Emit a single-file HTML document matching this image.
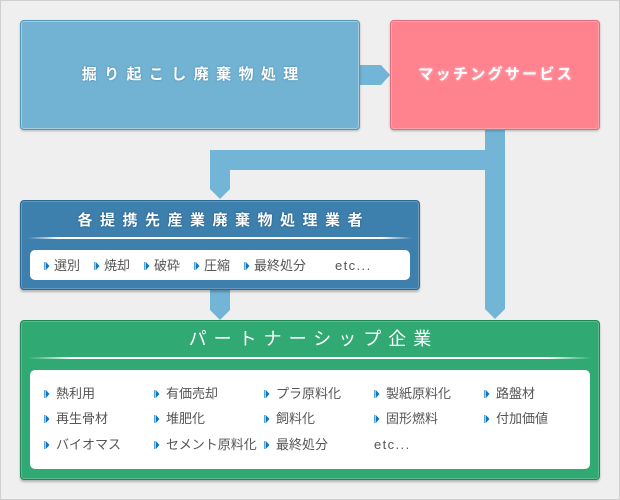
<!DOCTYPE html>
<html><head><meta charset="utf-8">
<style>
*{margin:0;padding:0;box-sizing:border-box}
html,body{width:620px;height:500px;overflow:hidden}
body{background:#efefef;position:relative;font-family:"Liberation Sans","Noto Sans CJK JP",sans-serif}
.frame{position:absolute;left:0;top:0;width:620px;height:500px;border:1px solid #cfcfcf}
.box{position:absolute;border-radius:4px}
.t{position:absolute;left:0;right:0;text-align:center;color:#fff;white-space:nowrap}
.inner{position:absolute;background:#fff;border-radius:5px}
.sep{position:absolute;height:2px;background:linear-gradient(to right,rgba(255,255,255,0),#fff 8%,#fff 92%,rgba(255,255,255,0))}
.it{position:absolute;font-size:13px;color:#555;white-space:nowrap;line-height:16px;height:16px}
.ic{position:absolute;width:6px;height:8px}
svg{position:absolute;left:0;top:0}
</style></head><body>
<div class="frame"></div>

<svg width="620" height="500">
  <polygon points="359,65 381,65 390,75 381,85 359,85" fill="#72b5d6"/>
  <polygon points="485,129 505,129 505,309 495,319 485,309" fill="#72b5d6"/>
  <rect x="210" y="150" width="285" height="20" fill="#72b5d6"/>
  <polygon points="210,150 230,150 230,189 220,199 210,189" fill="#72b5d6"/>
  <polygon points="210,289 230,289 230,310 220,320 210,310" fill="#72b5d6"/>
</svg>

<!-- blue box -->
<div class="box" style="left:20px;top:20px;width:340px;height:110px;background:#72b3d3;border:1px solid #5796b8;box-shadow:inset 0 0 0 1px rgba(255,255,255,.35),0 1px 2px rgba(0,0,0,.25)">
  <div class="t" style="top:44px;line-height:20px;font-size:15px;font-weight:bold;letter-spacing:7.4px;padding-left:7.4px;text-shadow:0 0 2px rgba(40,90,120,.5)">掘り起こし廃棄物処理</div>
</div>

<!-- pink box -->
<div class="box" style="left:390px;top:20px;width:210px;height:110px;background:#ff838f;border:1px solid #de6e7c;box-shadow:inset 0 0 0 1px rgba(255,255,255,.25),0 1px 2px rgba(0,0,0,.25)">
  <div class="t" style="top:44px;line-height:20px;font-size:15px;font-weight:bold;letter-spacing:2.3px;padding-left:2.3px;text-shadow:0 0 2px #ffb8c2,0 0 3px #ffa6b2">マッチングサービス</div>
</div>

<!-- box 2 -->
<div class="box" style="left:20px;top:200px;width:400px;height:90px;background:#3e80ad;border:1px solid #2c6790;box-shadow:inset 0 0 0 1px rgba(255,255,255,.2),0 2px 2px rgba(0,0,0,.25)">
  <div class="t" style="top:10px;line-height:20px;font-size:15px;font-weight:bold;letter-spacing:7.5px;padding-left:7.5px;text-shadow:0 0 2px rgba(0,40,80,.5)">各提携先産業廃棄物処理業者</div>
</div>
<div class="sep" style="left:28px;top:237px;width:384px"></div>
<div class="inner" style="left:30px;top:250px;width:380px;height:30px"></div>

<!-- green box -->
<div class="box" style="left:20px;top:320px;width:580px;height:160px;background:#30a973;border:1px solid #238659;box-shadow:inset 0 0 0 1px rgba(255,255,255,.2),0 2px 2px rgba(0,0,0,.25)">
  <div class="t" style="top:6px;line-height:24px;font-size:18px;letter-spacing:7px;padding-left:7px">パートナーシップ企業</div>
</div>
<div class="sep" style="left:28px;top:357px;width:564px"></div>
<div class="inner" style="left:30px;top:370px;width:560px;height:99px"></div>

<!-- icons -->
<svg width="620" height="500">
  <defs>
    <g id="ic"><rect x="0" y="0" width="1.3" height="8" fill="#5aa6da"/><polygon points="1.8,0 5.5,4 1.8,8" fill="#0a76c4"/></g>
  </defs>
  <use href="#ic" x="44" y="262"/>
  <use href="#ic" x="94" y="262"/>
  <use href="#ic" x="144" y="262"/>
  <use href="#ic" x="194" y="262"/>
  <use href="#ic" x="244" y="262"/>

  <use href="#ic" x="44" y="390"/><use href="#ic" x="154" y="390"/><use href="#ic" x="264" y="390"/><use href="#ic" x="374" y="390"/><use href="#ic" x="484" y="390"/>
  <use href="#ic" x="44" y="415"/><use href="#ic" x="154" y="415"/><use href="#ic" x="264" y="415"/><use href="#ic" x="374" y="415"/><use href="#ic" x="484" y="415"/>
  <use href="#ic" x="44" y="441"/><use href="#ic" x="154" y="441"/><use href="#ic" x="264" y="441"/>
</svg>

<!-- box2 items -->
<div class="it" style="left:54px;top:258px">選別</div>
<div class="it" style="left:104px;top:258px">焼却</div>
<div class="it" style="left:154px;top:258px">破砕</div>
<div class="it" style="left:204px;top:258px">圧縮</div>
<div class="it" style="left:254px;top:258px">最終処分</div>
<div class="it" style="left:335px;top:258px;letter-spacing:1.4px">etc...</div>

<!-- green items -->
<div class="it" style="left:56px;top:386px">熱利用</div>
<div class="it" style="left:166px;top:386px">有価売却</div>
<div class="it" style="left:276px;top:386px">プラ原料化</div>
<div class="it" style="left:386px;top:386px">製紙原料化</div>
<div class="it" style="left:496px;top:386px">路盤材</div>

<div class="it" style="left:56px;top:411px">再生骨材</div>
<div class="it" style="left:166px;top:411px">堆肥化</div>
<div class="it" style="left:276px;top:411px">飼料化</div>
<div class="it" style="left:386px;top:411px">固形燃料</div>
<div class="it" style="left:496px;top:411px">付加価値</div>

<div class="it" style="left:56px;top:437px">バイオマス</div>
<div class="it" style="left:166px;top:437px">セメント原料化</div>
<div class="it" style="left:276px;top:437px">最終処分</div>
<div class="it" style="left:374px;top:437px;letter-spacing:1.4px">etc...</div>

</body></html>
